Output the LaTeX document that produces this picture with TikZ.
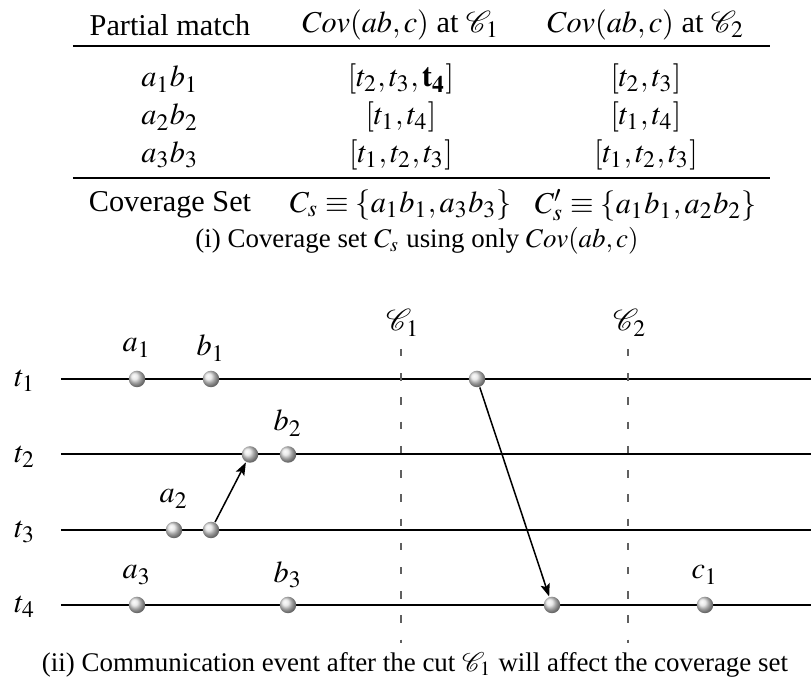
\documentclass[tikz,border=0pt]{standalone}
\usepackage{mathptmx}
\usepackage{mathrsfs}
\usepackage{fontspec}
\setmainfont{Liberation Serif}
\usetikzlibrary{arrows.meta}
\begin{document}
\begin{tikzpicture}[x=0.2972pt,y=-0.2972pt,
  txt/.style={inner sep=0pt, font=\fontsize{9}{10.8}\selectfont},
  lbltxt/.style={inner sep=0pt, font=\fontsize{9}{10.8}\selectfont},
  captxt/.style={inner sep=0pt, font=\fontsize{8}{9.6}\selectfont},
  rulel/.style={line width=0.6pt},
  tline/.style={line width=0.6pt},
  cutline/.style={line width=0.5pt, gray!75!black, dash pattern=on 2.2pt off 5pt},
  dot/.style={circle, inner sep=0pt, minimum size=4.9pt, shading=ball, ball color=gray!22},
  arr/.style={line width=0.45pt, -{Stealth[length=3.8pt,width=2.8pt,inset=0.8pt]}}]
\useasboundingbox (0,0) rectangle (811,686);
% ---- table ----
\node[txt] (h1) at (170,25) {Partial match};
\node[txt] (h2) at (401,25) {$Cov(ab,c)$ at $\mathscr{C}_1$};
\node[txt] (h3) at (646,25) {$Cov(ab,c)$ at $\mathscr{C}_2$};
\coordinate (r1a) at (73,46); \coordinate (r1b) at (770,46);
\draw[rulel] (r1a) -- (r1b);
\node[txt] (p1) at (170,79) {$a_1b_1$};
\node[txt] (p2) at (170,117) {$a_2b_2$};
\node[txt] (p3) at (170,155) {$a_3b_3$};
\node[txt] (c11) at (401,79) {$[t_2,t_3,\mathbf{t_4}]$};
\node[txt] (c12) at (401,117) {$[t_1,t_4]$};
\node[txt] (c13) at (401,155) {$[t_1,t_2,t_3]$};
\node[txt] (c21) at (646,79) {$[t_2,t_3]$};
\node[txt] (c22) at (646,117) {$[t_1,t_4]$};
\node[txt] (c23) at (646,155) {$[t_1,t_2,t_3]$};
\coordinate (r2a) at (73,178); \coordinate (r2b) at (770,178);
\draw[rulel] (r2a) -- (r2b);
\node[txt] (cs0) at (170,205) {Coverage Set};
\node[txt] (cs1) at (401,205) {$C_s \equiv \{a_1b_1, a_3b_3\}$};
\node[txt] (cs2) at (646,205) {$C'_s \equiv \{a_1b_1, a_2b_2\}$};
\node[captxt] (capi) at (417,241) {(i) Coverage set $C_s$ using only $Cov(ab,c)$};
% ---- timelines ----
\foreach \i/\y in {1/379,2/454.5,3/530,4/605}{
  \coordinate (s\i) at (61,\y);
  \coordinate (e\i) at (811,\y);
  \draw[tline] (s\i) -- (e\i);
  \node[lbltxt] (t\i) at (25,\y+2) {$t_\i$};
}
% cuts
\coordinate (k1a) at (401,349); \coordinate (k1b) at (401,643);
\coordinate (k2a) at (628,349); \coordinate (k2b) at (628,643);
\draw[cutline] (k1a) -- (k1b);
\draw[cutline] (k2a) -- (k2b);
\node[lbltxt] (C1) at (403,323) {$\mathscr{C}_1$};
\node[lbltxt] (C2) at (630,323) {$\mathscr{C}_2$};
% events
\node[dot] (a1) at (137,379) {};
\node[dot] (b1) at (211,379) {};
\node[dot] (x1) at (477,379) {};
\node[dot] (y2) at (250,454.5) {};
\node[dot] (b2) at (288,454.5) {};
\node[dot] (a2) at (174,530) {};
\node[dot] (x3) at (211,530) {};
\node[dot] (a3) at (137,605) {};
\node[dot] (b3) at (288,605) {};
\node[dot] (y4) at (552,605) {};
\node[dot] (c1) at (705,605) {};
% labels
\node[lbltxt] (la1) at (137,348) {$a_1$};
\node[lbltxt] (lb1) at (211,348) {$b_1$};
\node[lbltxt] (lb2) at (288,423) {$b_2$};
\node[lbltxt] (la2) at (174,499) {$a_2$};
\node[lbltxt] (la3) at (137,575) {$a_3$};
\node[lbltxt] (lb3) at (288,575) {$b_3$};
\node[lbltxt] (lc1) at (705,575) {$c_1$};
% messages
\draw[arr] (x3) -- (y2);
\draw[arr] (x1) -- (y4);
\node[captxt] (capii) at (415,665) {(ii) Communication event after the cut $\mathscr{C}_1$ will affect the coverage set};
\end{tikzpicture}
\end{document}
